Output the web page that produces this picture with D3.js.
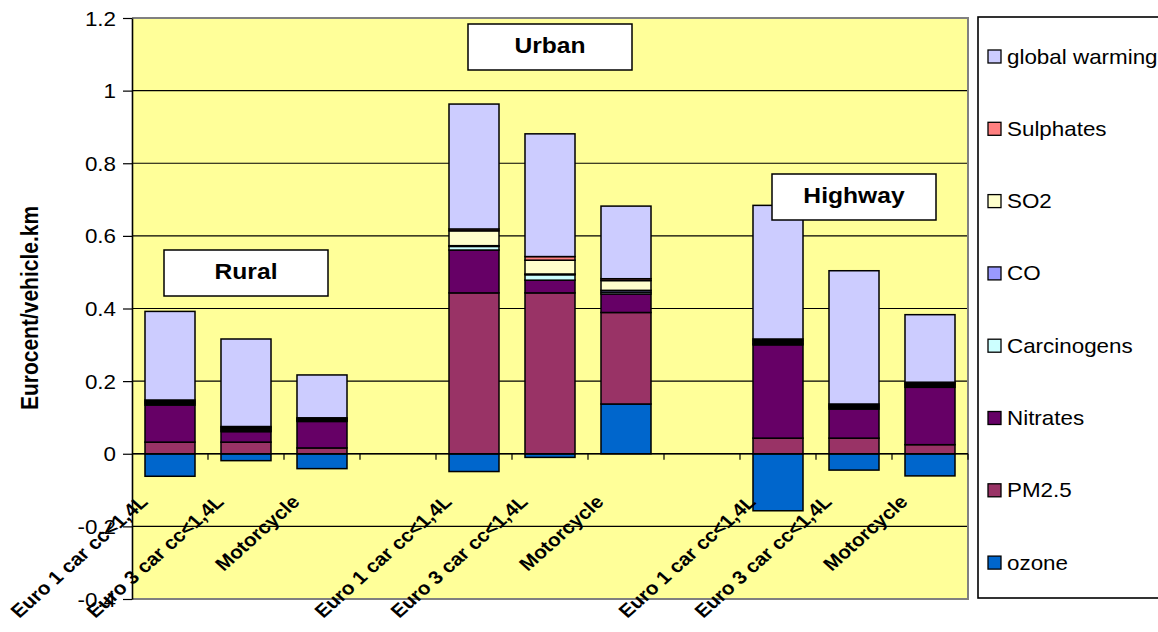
<!DOCTYPE html>
<html>
<head>
<meta charset="utf-8">
<script src="https://cdn.jsdelivr.net/npm/d3@7"></script>
<style>
  body { margin: 0; background: #fff; }
  text { font-family: "Liberation Sans", Arial, sans-serif; fill: #000; }
</style>
</head>
<body>
<div id="chart"></div>
<script>
// categories (blank slots separate the three driving cycles)
var categories = ["Euro 1 car cc<1,4L", "Euro 3 car cc<1,4L", "Motorcycle", "",
                  "Euro 1 car cc<1,4L", "Euro 3 car cc<1,4L", "Motorcycle", "",
                  "Euro 1 car cc<1,4L", "Euro 3 car cc<1,4L", "Motorcycle"];
var groups = ["Rural", "Urban", "Highway"];
var groupMiddle = [1, 5, 9];

var seriesNames = ["ozone", "PM2.5", "Nitrates", "Carcinogens", "CO", "SO2", "Sulphates", "global warming"];

var ozone         = [-0.062, -0.019, -0.041, 0, -0.049, -0.010, 0.137, 0, -0.157, -0.045, -0.061];
var pm25          = [0.032, 0.032, 0.016, 0, 0.443, 0.443, 0.252, 0, 0.043, 0.043, 0.025];
var nitrates      = [0.102, 0.029, 0.073, 0, 0.118, 0.035, 0.051, 0, 0.257, 0.080, 0.158];
var carcinogens   = [0.0035, 0.0035, 0.0025, 0, 0.010, 0.015, 0.005, 0, 0.004, 0.0035, 0.0035];
var co            = [0.0035, 0.0035, 0.0025, 0, 0.002, 0.002, 0.005, 0, 0.004, 0.0035, 0.0035];
var so2           = [0.0035, 0.0035, 0.0025, 0, 0.041, 0.038, 0.027, 0, 0.004, 0.0035, 0.0035];
var sulphates     = [0.0035, 0.0035, 0.0025, 0, 0.005, 0.010, 0.005, 0, 0.004, 0.0035, 0.0035];
var globalWarming = [0.244, 0.241, 0.118, 0, 0.344, 0.338, 0.200, 0, 0.368, 0.367, 0.186];

var yTicks = [-0.4, -0.2, 0, 0.2, 0.4, 0.6, 0.8, 1, 1.2];
var yTickLabels = ["-0.4", "-0.2", "0", "0.2", "0.4", "0.6", "0.8", "1", "1.2"];

var colors = ["#0066CC", "#993366", "#660066", "#CCFFFF", "#9999FF", "#FFFFCC", "#FF8080", "#CCCCFF"];

var svgWidth = 1158;
var svgHeight = 632;
var plot = { left: 132, right: 968, top: 18, bottom: 599 };
var SX = 1.12; // text in the original is a bit wider than it is tall
var boxTops = [250, 24, 174];

var svg = d3.select("#chart")
    .append("svg")
    .attr("width", svgWidth)
    .attr("height", svgHeight);

var seriesValues = [ozone, pm25, nitrates, carcinogens, co, so2, sulphates, globalWarming];
var table = categories.map(function (c, i) {
    var row = { idx: i };
    seriesNames.forEach(function (s, k) { row[s] = seriesValues[k][i]; });
    return row;
});

var x = d3.scaleBand()
    .domain(d3.range(categories.length))
    .range([plot.left, plot.right])
    .paddingInner(0.342)
    .paddingOuter(0.171);

var y = d3.scaleLinear()
    .domain([-0.4, 1.2])
    .range([plot.bottom, plot.top]);

// plot background
svg.append("rect")
    .attr("x", plot.left).attr("y", plot.top)
    .attr("width", plot.right - plot.left).attr("height", plot.bottom - plot.top)
    .attr("fill", "#FFFF99");

// gridlines
svg.append("g")
    .selectAll("line")
    .data(yTicks.filter(function (d) { return d > -0.4 && d < 1.2; }))
    .enter()
    .append("line")
    .attr("x1", plot.left).attr("x2", plot.right)
    .attr("y1", function (d) { return y(d); })
    .attr("y2", function (d) { return y(d); })
    .attr("stroke", "#000")
    .attr("stroke-width", 1.2);

// plot border (grey)
svg.append("path")
    .attr("d", "M" + plot.left + "," + plot.top + "H" + plot.right + "V" + plot.bottom + "H" + plot.left)
    .attr("fill", "none")
    .attr("stroke", "#808080")
    .attr("stroke-width", 2);

// stacked bars
var stack = d3.stack()
    .keys(seriesNames)
    .order(d3.stackOrderNone)
    .offset(d3.stackOffsetDiverging);
var stacked = stack(table);

svg.append("g")
    .selectAll("g")
    .data(stacked)
    .enter()
    .append("g")
    .attr("fill", function (d, i) { return colors[i]; })
    .selectAll("rect")
    .data(function (d) { return d.filter(function (p) { return p[1] - p[0] !== 0; }); })
    .enter()
    .append("rect")
    .attr("x", function (d) { return x(d.data.idx); })
    .attr("width", x.bandwidth())
    .attr("y", function (d) { return y(Math.max(d[0], d[1])); })
    .attr("height", function (d) { return Math.abs(y(d[0]) - y(d[1])); })
    .attr("stroke", "#000")
    .attr("stroke-width", 1.5);

// x axis line at zero with ticks on category boundaries
var zeroY = y(0);
svg.append("line")
    .attr("x1", plot.left).attr("x2", plot.right)
    .attr("y1", zeroY).attr("y2", zeroY)
    .attr("stroke", "#000").attr("stroke-width", 1.5);

svg.append("g")
    .selectAll("line")
    .data(d3.range(1, categories.length + 1))
    .enter()
    .append("line")
    .attr("x1", function (i) { return plot.left + i * x.step(); })
    .attr("x2", function (i) { return plot.left + i * x.step(); })
    .attr("y1", zeroY).attr("y2", zeroY + 6)
    .attr("stroke", "#000").attr("stroke-width", 1.2);

// y axis
var leftAxis = d3.axisLeft(y)
    .tickValues(yTicks)
    .tickFormat(function (d, i) { return yTickLabels[i]; })
    .tickSize(9)
    .tickSizeOuter(0);

var yAxisG = svg.append("g")
    .attr("transform", "translate(" + plot.left + ",0)")
    .call(leftAxis);
yAxisG.select(".domain").attr("stroke", "#000").attr("stroke-width", 1.6);
yAxisG.selectAll(".tick line").attr("stroke", "#000").attr("stroke-width", 1.2);
yAxisG.selectAll(".tick text")
    .attr("font-size", 20)
    .attr("font-family", "Liberation Sans, Arial, sans-serif")
    .attr("fill", "#000")
    .attr("x", -16 / SX)
    .attr("dy", "0.35em")
    .attr("transform", "scale(" + SX + ",1)");

// y axis title
svg.append("text")
    .attr("transform", "translate(38,308) scale(" + SX + ",1) rotate(-90)")
    .attr("text-anchor", "middle")
    .attr("font-size", 21)
    .attr("font-weight", "bold")
    .text("Eurocent/vehicle.km");

// x labels, rotated
svg.append("g")
    .selectAll("text")
    .data(categories)
    .enter()
    .append("text")
    .attr("transform", function (d, i) {
        var cx = x(i) + x.bandwidth() / 2 - 21;
        return "translate(" + cx + ",503) scale(" + SX + ",1) rotate(-45)";
    })
    .attr("text-anchor", "end")
    .attr("font-size", 18.5)
    .attr("font-weight", "bold")
    .text(function (d) { return d; });

// group title boxes
var boxW = 164, boxH = 46;
var boxes = svg.append("g")
    .selectAll("g")
    .data(groups)
    .enter()
    .append("g")
    .attr("transform", function (d, i) {
        var cx = x(groupMiddle[i]) + x.bandwidth() / 2;
        return "translate(" + (cx - boxW / 2) + "," + boxTops[i] + ")";
    });
boxes.append("rect")
    .attr("width", boxW).attr("height", boxH)
    .attr("fill", "#fff")
    .attr("stroke", "#000")
    .attr("stroke-width", 1.5);
boxes.append("text")
    .attr("transform", "translate(" + boxW / 2 + ",29) scale(" + SX + ",1)")
    .attr("text-anchor", "middle")
    .attr("font-size", 22)
    .attr("font-weight", "bold")
    .text(function (d) { return d; });

// legend
svg.append("rect")
    .attr("x", 978).attr("y", 17)
    .attr("width", 200).attr("height", 581)
    .attr("fill", "#fff")
    .attr("stroke", "#000")
    .attr("stroke-width", 1.6);

var legendOrder = seriesNames.map(function (s, i) { return i; }).reverse();
var legendItems = svg.append("g")
    .selectAll("g")
    .data(legendOrder)
    .enter()
    .append("g")
    .attr("transform", function (d, j) { return "translate(988," + (56.5 + j * 72.3) + ")"; });
legendItems.append("rect")
    .attr("x", 0).attr("y", -6.5)
    .attr("width", 13).attr("height", 13)
    .attr("fill", function (d) { return colors[d]; })
    .attr("stroke", "#000")
    .attr("stroke-width", 1.3);
legendItems.append("text")
    .attr("transform", "translate(19,7) scale(" + SX + ",1)")
    .attr("font-size", 20)
    .text(function (d) { return seriesNames[d]; });
</script>
</body>
</html>
